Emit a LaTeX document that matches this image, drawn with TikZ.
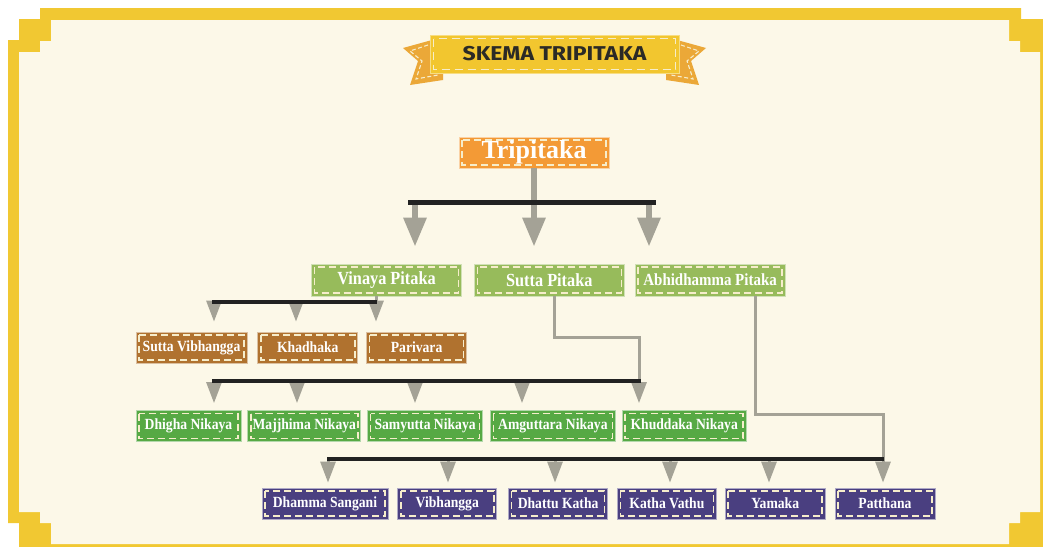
\documentclass[tikz,border=0pt]{standalone}
\usepackage{fontspec}
\setmainfont{Liberation Serif}[FakeStretch=0.88]
\newfontfamily\rootfont{Liberation Serif}
\newfontfamily\titlefont{Fira Sans}[FakeStretch=1.15]
\usetikzlibrary{arrows.meta,positioning}

\definecolor{paper}{HTML}{FCF8E8}
\definecolor{frameyellow}{HTML}{F1C832}
\definecolor{ribbon}{HTML}{F2C62F}
\definecolor{ribbontail}{HTML}{EBA838}
\definecolor{titleink}{HTML}{2B2A26}
\definecolor{rootorange}{HTML}{F39A36}
\definecolor{pitakagreen}{HTML}{97BB5B}
\definecolor{vinayabrown}{HTML}{B0722F}
\definecolor{nikayagreen}{HTML}{56A944}
\definecolor{abhipurple}{HTML}{4A3F80}
\definecolor{linkgray}{HTML}{A4A296}
\definecolor{busblack}{HTML}{222222}
\definecolor{stitch}{HTML}{F6EDCB}

\tikzset{
	x=1pt, y=-1pt,
	box/.style={rectangle, draw=#1!45!white, fill=#1, line width=0.8pt,
		minimum height=31pt, inner sep=0pt, text=white,
		font=\bfseries\fontsize{15.5}{15.5}\selectfont,
		path picture={\draw[stitch, line width=1.5pt, dash pattern=on 7pt off 4pt]
			([shift={(3pt,-3pt)}]path picture bounding box.north west) rectangle
			([shift={(-3pt,3pt)}]path picture bounding box.south east);}},
	pitaka/.style={box=pitakagreen, minimum width=150pt, minimum height=32pt,
		font=\bfseries\fontsize{18.5}{18.5}\selectfont},
	vinaya/.style={box=vinayabrown},
	nikaya/.style={box=nikayagreen},
	abhi/.style={box=abhipurple},
	bigarrow/.style={draw=linkgray, line width=6pt, -{Triangle[width=22pt,length=29pt]}},
	smallarrow/.style={draw=linkgray, line width=3pt, -{Triangle[width=15pt,length=21pt]}},
	link/.style={draw=linkgray, line width=3pt},
	bus/.style={draw=busblack, line width=3.5pt},
}

\begin{document}
\begin{tikzpicture}
	\useasboundingbox (0,0) rectangle (1043,546);
	% frame
	\fill[white] (0,0) rectangle (1043,546);
	\fill[frameyellow] (40,8) -- (1021,8) -- (1021,19) -- (1052,19) -- (1052,560)
		-- (19,560) -- (19,523) -- (8,523) -- (8,40) -- (19,40) -- (19,19) -- (40,19) -- cycle;
	\fill[paper] (51,20) -- (1009,20) -- (1009,41) -- (1020,41) -- (1020,52) -- (1040,52)
		-- (1040,512) -- (1020,512) -- (1020,523) -- (1009,523) -- (1009,544) -- (51,544)
		-- (51,523) -- (40,523) -- (40,512) -- (19,512) -- (19,52) -- (40,52) -- (40,41)
		-- (51,41) -- cycle;
	
	% title ribbon
	\foreach \flip/\move in {1/0,-1/1109} {
		\begin{scope}[xshift=\move, xscale=\flip]
			\fill[ribbontail] (432,40) -- (403,48) -- (418,61) -- (410,85) -- (443,80) -- (443,66) -- cycle;
			\draw[stitch, line width=1.1pt, dash pattern=on 4pt off 2.5pt] (428,45) -- (410,51) -- (422,61) -- (416,79) -- (438,75);
		\end{scope}
	}
	\node[fill=ribbon, draw=ribbon!60!white, line width=0.8pt, minimum width=249pt, minimum height=38pt, inner sep=0pt,
		text=titleink, font=\titlefont\bfseries\fontsize{20}{20}\selectfont,
		path picture={\draw[stitch, line width=1.5pt, dash pattern=on 8pt off 5pt]
			([shift={(3.5pt,-3.5pt)}]path picture bounding box.north west) rectangle
			([shift={(-3.5pt,3.5pt)}]path picture bounding box.south east);}]
		(title) at (554.5,54) {SKEMA TRIPITAKA};
	
	% root
	\node[box=rootorange, minimum width=150pt, minimum height=31pt,
		font=\rootfont\bfseries\fontsize{26}{26}\selectfont] (tri) at (534,152.5) {Tripitaka};
	
	% pitaka
	\node[pitaka] (vin) at (386.5,280) {Vinaya Pitaka};
	\node[pitaka, right=12pt of vin] (sut) {Sutta Pitaka};
	\node[pitaka, right=10pt of sut, font=\bfseries\fontsize{17}{17}\selectfont] (abh) {Abhidhamma Pitaka};
	
	% vinaya pitaka
	\node[vinaya, minimum width=111pt] (svb) at (191.5,347.5) {Sutta Vibhangga};
	\node[vinaya, minimum width=100pt, right=10pt of svb] (khd) {Khadhaka};
	\node[vinaya, minimum width=100pt, right=8pt of khd] (prv) {Parivara};
	
	% sutta pitaka
	\node[nikaya, minimum width=105pt] (dhi) at (188.5,426) {Dhigha Nikaya};
	\node[nikaya, minimum width=113pt, right=6pt of dhi] (maj) {Majjhima Nikaya};
	\node[nikaya, minimum width=115pt, right=6pt of maj] (sam) {Samyutta Nikaya};
	\node[nikaya, minimum width=125pt, right=7pt of sam] (amg) {Amguttara Nikaya};
	\node[nikaya, minimum width=124pt, right=6pt of amg] (khu) {Khuddaka Nikaya};
	
	% abhidhamma pitaka
	\node[abhi, minimum width=126pt] (dsg) at (325,503.5) {Dhamma Sangani};
	\node[abhi, minimum width=99pt, right=9pt of dsg] (vbg) {Vibhangga};
	\node[abhi, minimum width=99pt, right=11pt of vbg] (dtk) {Dhattu Katha};
	\node[abhi, minimum width=99pt, right=9pt of dtk] (ktv) {Katha Vathu};
	\node[abhi, minimum width=100pt, right=8pt of ktv] (ymk) {Yamaka};
	\node[abhi, minimum width=100pt, right=9pt of ymk] (pth) {Patthana};
	
	% buses
	\coordinate (bus1w) at (408,202);
	\coordinate (bus1e) at (656,202);
	\coordinate (bus2w) at (212,302);
	\coordinate (bus2e) at (377,302);
	\coordinate (bus3w) at (212,381);
	\coordinate (bus3e) at (641,381);
	\coordinate (bus4w) at (327,459);
	\coordinate (bus4e) at (884,459);
	\coordinate (sbend) at (639,337);
	\coordinate (abend) at (883,414);
	
	% connectors
	\draw[link, line width=6pt] (tri.south) -- (tri.south |- bus1w);
	\foreach \ax/\nd in {415/vin,534/sut,649/abh}
		\draw[bigarrow, shorten >=17pt] (\ax,0 |- bus1w) -- (\ax,0 |- \nd.north);
	\draw[link] (376,0 |- vin.south) -- (376,0 |- bus2w);
	\foreach \ax/\nd in {214/svb,296/khd,376/prv}
		\draw[smallarrow, shorten >=10pt] (\ax,0 |- bus2w) -- (\ax,0 |- \nd.north);
	\draw[link] (554,0 |- sut.south) |- (sbend) -- (sbend |- bus3e);
	\foreach \ax/\nd in {214/dhi,297/maj,415/sam,522/amg,639/khu}
		\draw[smallarrow, shorten >=7pt] (\ax,0 |- bus3w) -- (\ax,0 |- \nd.north);
	\draw[link] (755,0 |- abh.south) |- (abend) -- (abend |- bus4e);
	\foreach \ax/\nd in {328/dsg,448/vbg,555/dtk,670/ktv,769/ymk,883/pth}
		\draw[smallarrow, shorten >=5pt] (\ax,0 |- bus4w) -- (\ax,0 |- \nd.north);
	
	\draw[bus, line width=5pt] (bus1w) -- (bus1e);
	\draw[bus] (bus2w) -- (bus2e);
	\draw[bus] (bus3w) -- (bus3e);
	\draw[bus] (bus4w) -- (bus4e);
\end{tikzpicture}
\end{document}
